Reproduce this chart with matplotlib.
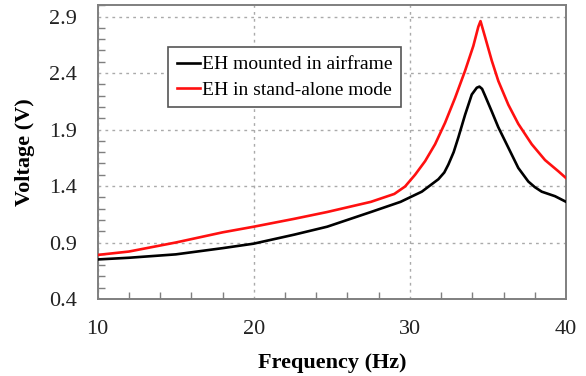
import numpy as np
import matplotlib
matplotlib.use("Agg")
import matplotlib.pyplot as plt
from matplotlib.ticker import MultipleLocator

plt.rcParams['font.family'] = ['Liberation Serif', 'DejaVu Serif']

# Output voltage vs. excitation frequency, two configurations
freq_mounted = [10, 12, 15, 18, 20, 22.6, 24.7, 27.5, 29.4, 29.7, 30.76, 31.82,
                32.2, 32.46, 32.8, 33.10, 33.53, 33.96, 34.28, 34.45, 34.62, 34.81,
                35.24, 35.66, 36.30, 36.94, 37.58, 38.0, 38.44, 39.29, 40.0]
volt_mounted = [0.75, 0.765, 0.795, 0.85, 0.89, 0.97, 1.04, 1.17, 1.26, 1.28, 1.35, 1.46,
                1.52, 1.59, 1.70, 1.83, 2.03, 2.21, 2.27, 2.28, 2.26, 2.20,
                2.06, 1.92, 1.74, 1.56, 1.44, 1.39, 1.35, 1.31, 1.26]

freq_alone = [10, 12, 15, 18, 20, 22.6, 24.7, 27.5, 29.0, 29.69, 30.33, 30.97,
              31.61, 32.25, 32.89, 33.53, 34.06, 34.38, 34.52, 34.81, 35.24,
              35.66, 36.30, 36.94, 37.80, 38.65, 39.51, 40.0]
volt_alone = [0.79, 0.82, 0.90, 0.99, 1.04, 1.11, 1.17, 1.26, 1.33, 1.396, 1.50, 1.62,
              1.77, 1.96, 2.18, 2.42, 2.64, 2.81, 2.86, 2.72, 2.51,
              2.33, 2.12, 1.95, 1.77, 1.63, 1.53, 1.47]

x_ticks = [10, 20, 30, 40]
y_ticks = [0.4, 0.9, 1.4, 1.9, 2.4, 2.9]

fig = plt.figure(figsize=(5.86, 3.76), dpi=100)
ax = fig.add_axes([0.1667, 0.2048, 0.7993, 0.7812])

ax.plot(freq_mounted, volt_mounted, color='black', lw=1.9,
        label='EH mounted in airframe', zorder=3)
ax.plot(freq_alone, volt_alone, color='#ff1010', lw=1.9,
        label='EH in stand-alone mode', zorder=3)

ax.set_xlim(10, 40)
ax.set_ylim(0.4, 3.0)
ax.set_xticks(x_ticks)
ax.set_yticks(y_ticks)
ax.set_yticklabels(['%.1f' % v for v in y_ticks])
ax.xaxis.set_minor_locator(MultipleLocator(2))
ax.yaxis.set_minor_locator(MultipleLocator(0.1))

gray = '#7f7f7f'
for s in ax.spines.values():
    s.set_color(gray)
    s.set_linewidth(1.4)
ax.tick_params(which='both', direction='in', color=gray, width=1.0)
ax.tick_params(which='major', length=0, labelsize=16, labelcolor='#222222')
ax.tick_params(axis='y', which='major', pad=15)
ax.tick_params(axis='x', which='major', pad=15)
ax.tick_params(which='minor', length=5)
ax.grid(True, which='major', color='#aaaaaa', linestyle=(0, (2, 3)), lw=1.0)

ax.set_xlabel('Frequency (Hz)', fontsize=16, fontweight='bold', labelpad=10)
ax.set_ylabel('Voltage (V)', fontsize=16, fontweight='bold', labelpad=10)

leg = ax.legend(loc='upper left', bbox_to_anchor=(0.150, 0.858), fontsize=14,
                handlelength=1.2, handletextpad=0.1, borderpad=0.45,
                labelspacing=0.4, borderaxespad=0, fancybox=False, framealpha=1)
leg.get_frame().set_edgecolor('#555555')
leg.get_frame().set_linewidth(1.2)

fig.savefig('out.png', dpi=100)
